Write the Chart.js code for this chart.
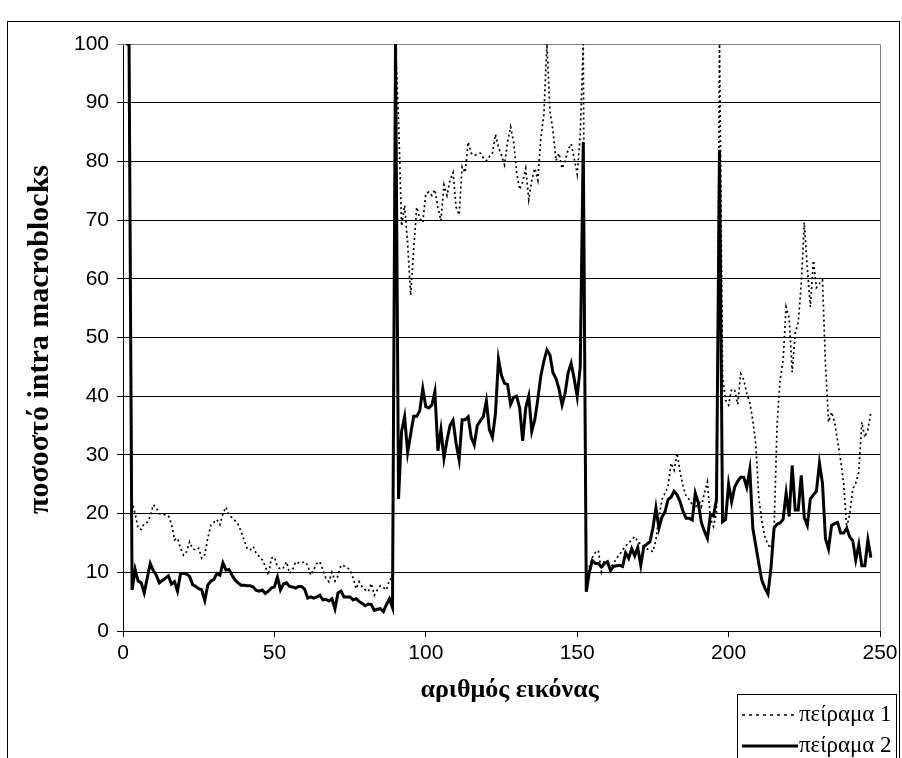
<!DOCTYPE html>
<html>
<head>
<meta charset="utf-8">
<script src="https://cdn.jsdelivr.net/npm/chart.js@4.4.1/dist/chart.umd.min.js"></script>
<style>
    html, body { margin: 0; padding: 0; background: #ffffff; }
    canvas { display: block; }
</style>
</head>
<body>
<canvas id="chart" width="902" height="758"></canvas>
<script>
// picture index (x axis), 1..247
const frames = Array.from({ length: 247 }, (_, i) => i + 1);

// πείραμα 1 (dotted)
const experiment1 = [
    100, 100, 22, 20, 17.5, 17.3, 18.3, 18.5, 19.5, 21.5,
    21, 20, 19.8, 19.8, 19.6, 18.3, 15.5, 15.8, 14.1, 12.9,
    13.5, 15.2, 14, 13.8, 14.1, 12.4, 13, 15.8, 18, 18.5,
    19, 18.1, 20, 21.1, 19.8, 19.3, 18.8, 18.2, 17, 15.5,
    14, 13.8, 14.4, 13.2, 12.7, 12.1, 11, 9.5, 12.4, 12.6,
    11, 10.5, 10.8, 11.8, 9.8, 10.4, 11.8, 11.6, 11.6, 11.8,
    11.2, 9.5, 10.5, 11.5, 11.8, 10.4, 9, 8.4, 10, 8.5,
    9.4, 11.2, 11.1, 10.8, 10.4, 9, 7.2, 8.4, 7.5, 7,
    6.7, 8.1, 6.1, 7, 7.7, 7.4, 7, 8.7, 9.1, 100,
    87, 69, 72.5, 66, 57.2, 65, 72.2, 70.3, 69.6, 74.5,
    74.8, 74.2, 75.2, 72.2, 69.9, 76, 74.2, 76.8, 78.1, 72.2,
    70.9, 79.1, 78.1, 83.3, 81.4, 81, 81.2, 81.4, 80.6, 80.1,
    80.8, 81.4, 84.6, 82.4, 81, 79.4, 83.3, 85.9, 83.3, 78.1,
    75.2, 76.5, 78.8, 73.5, 76.8, 78.8, 76.8, 84, 88, 100,
    88.6, 85.3, 80.1, 81.4, 78.8, 80, 82, 83, 80.5, 77.8,
    84.6, 100, 7, 11, 12.5, 13.4, 13.7, 10.1, 12.1, 11.5,
    10.8, 11.5, 12.4, 13, 13.8, 14.5, 15, 15.5, 16.1, 15.2,
    14.8, 14.4, 14, 13.8, 13.5, 15.5, 19.5, 22.4, 23.5, 24.6,
    28.6, 27.4, 30.3, 27, 24.6, 22.9, 22.4, 21.5, 20.8, 22.4,
    21.2, 23.5, 25.4, 19.2, 17.8, 20.2, 100, 43.3, 39.3, 38.5,
    41.2, 41, 38.6, 43.8, 42.8, 40.5, 38.9, 35.9, 31.7, 22.5,
    18.6, 16, 14.7, 14.1, 17, 35, 42.8, 46.1, 55.2, 53.3,
    44.1, 50.7, 52.6, 59.2, 69.6, 61.8, 55.2, 63.1, 58.5, 59.2,
    59.8, 45.4, 35.6, 37.3, 35.6, 32.4, 29.1, 25.2, 17.6, 19.9,
    24.2, 25.2, 27.1, 35.6, 33, 34.3, 37.3
];

// πείραμα 2 (solid)
const experiment2 = [
    100, 100, 7, 10.5, 8.5, 8.2, 6.5, 9, 11.5, 10.3,
    9.5, 8.2, 8.6, 9, 9.4, 8, 8.4, 6.8, 9.8, 9.8,
    9.7, 9.3, 7.9, 7.6, 7.2, 7, 5.2, 7.8, 8.5, 8.8,
    9.8, 9.5, 11.6, 10.4, 10.5, 9.5, 8.7, 8.2, 7.8, 7.8,
    7.7, 7.7, 7.5, 6.9, 6.8, 7, 6.4, 6.8, 7.3, 7.5,
    9.2, 7, 8, 8.2, 7.6, 7.5, 7.3, 7.6, 7.6, 7.1,
    5.6, 5.8, 5.6, 5.8, 6.1, 5.3, 5.4, 5.1, 5.5, 3.8,
    6.5, 6.8, 5.8, 5.8, 5.8, 5.3, 5.5, 5, 4.7, 4.3,
    4.6, 4.5, 3.5, 3.7, 3.8, 3.3, 4.5, 5.5, 4, 100,
    22.5, 34, 36.5, 30.4, 33.5, 36.6, 36.6, 37.5, 41.3, 38.2,
    38, 38.5, 40.8, 30.7, 34.3, 29.4, 32.5, 35, 35.9, 32,
    29.2, 36, 36, 36.5, 33, 31.7, 35, 35.8, 36.5, 39.2,
    34.3, 33, 37, 46.3, 43.5, 42.2, 42, 38.6, 39.8, 40,
    38, 32.4, 38, 40, 34, 36, 39.5, 43.5, 46, 47.9,
    47, 44, 43, 41.2, 38.5, 40.5, 44, 45.6, 43, 39.9,
    45, 83.3, 6.7, 10, 12, 11.5, 11.5, 10.9, 11.5, 11.8,
    10.3, 11, 11.1, 11.2, 11, 13.3, 12.4, 14, 12.8, 14.2,
    11.2, 14.4, 14.8, 15.2, 17.5, 21, 17.5, 19.4, 20.3, 22.4,
    22.8, 23.8, 23.2, 22, 20.3, 19.2, 19.2, 18.9, 23.5, 21.8,
    18.5, 17, 15.8, 19.8, 19.6, 22.4, 82, 18.6, 19, 25,
    22, 24.5, 25.5, 26.2, 26.2, 24.5, 27.5, 17.5, 14.5, 11.4,
    8.6, 7.3, 6.3, 10.8, 17.5, 18.2, 18.4, 19, 23.5, 19.5,
    28.2, 20.6, 20.6, 26.5, 19.3, 18, 22.5, 23.2, 23.8, 28.6,
    25.2, 15.7, 14, 18, 18.3, 18.5, 16.7, 16.7, 17.5, 16,
    15.4, 12.1, 14.7, 11.1, 11.1, 15.5, 12.5
];

const seriesLabels = ['πείραμα 1', 'πείραμα 2'];
const xTitle = 'αριθμός εικόνας';
const yTitle = 'ποσοστό intra macroblocks';

const toPoints = (values) => values.map((v, i) => ({ x: frames[i], y: v }));

// Titles, legend box and outer frame drawn in Excel style
const excelDecor = {
    id: 'excelDecor',
    beforeDatasetsDraw(chart) {
        const { ctx, chartArea: a } = chart;
        ctx.save();
        ctx.strokeStyle = '#808080';
        ctx.lineWidth = 1;
        ctx.beginPath();
        ctx.moveTo(a.left, a.top + 0.5);
        ctx.lineTo(a.right + 0.5, a.top + 0.5);
        ctx.lineTo(a.right + 0.5, a.bottom);
        ctx.stroke();
        ctx.restore();
    },
    afterDraw(chart) {
        const { ctx, chartArea: a } = chart;
        ctx.save();

        // outer frame
        ctx.strokeStyle = '#000';
        ctx.lineWidth = 1;
        ctx.strokeRect(7.5, 21.5, 892, 800);

        // axis titles
        ctx.fillStyle = '#000';
        ctx.textAlign = 'center';
        ctx.textBaseline = 'middle';
        ctx.font = 'bold 26px "Liberation Serif", "Times New Roman", serif';
        ctx.fillText(xTitle, (a.left + a.right) / 2 + 8, 690);

        ctx.save();
        ctx.font = 'bold 30px "Liberation Serif", "Times New Roman", serif';
        ctx.translate(40, (a.top + a.bottom) / 2 + 2);
        ctx.rotate(-Math.PI / 2);
        ctx.fillText(yTitle, 0, 0);
        ctx.restore();

        // legend
        ctx.fillStyle = '#fff';
        ctx.fillRect(737.5, 694.5, 159, 80);
        ctx.strokeRect(737.5, 694.5, 159, 80);

        const rows = [
            { y: 715, dash: [3, 4], width: 1.5 },
            { y: 746, dash: [], width: 3 }
        ];
        ctx.font = '23px "Liberation Serif", "Times New Roman", serif';
        ctx.textAlign = 'left';
        rows.forEach((row, i) => {
            ctx.strokeStyle = '#000';
            ctx.lineWidth = row.width;
            ctx.setLineDash(row.dash);
            ctx.beginPath();
            ctx.moveTo(742, row.y);
            ctx.lineTo(798, row.y);
            ctx.stroke();
            ctx.setLineDash([]);
            ctx.fillStyle = '#000';
            ctx.fillText(seriesLabels[i], 799, row.y);
        });

        ctx.restore();
    }
};

new Chart(document.getElementById('chart'), {
    type: 'line',
    data: {
        datasets: [
            {
                label: seriesLabels[1],
                data: toPoints(experiment2),
                borderColor: '#000',
                borderWidth: 3,
                pointRadius: 0,
                tension: 0,
                order: 0
            },
            {
                label: seriesLabels[0],
                data: toPoints(experiment1),
                borderColor: '#000',
                borderWidth: 1.7,
                borderDash: [2, 3],
                pointRadius: 0,
                tension: 0,
                order: 1
            }
        ]
    },
    options: {
        responsive: false,
        devicePixelRatio: 1,
        animation: false,
        events: [],
        layout: { padding: { top: 44, right: 22, left: 0, bottom: 0 } },
        plugins: {
            legend: { display: false },
            tooltip: { enabled: false }
        },
        scales: {
            x: {
                type: 'linear',
                min: 0,
                max: 250,
                ticks: {
                    stepSize: 50,
                    color: '#000',
                    padding: 4,
                    maxRotation: 0,
                    font: { family: '"Liberation Sans", Arial, sans-serif', size: 21 }
                },
                grid: {
                    drawOnChartArea: false,
                    drawTicks: true,
                    tickLength: 6,
                    color: '#000'
                },
                border: { color: '#000', width: 1 },
                afterFit: (scale) => { scale.height = 127; }
            },
            y: {
                min: 0,
                max: 100,
                ticks: {
                    stepSize: 10,
                    color: '#000',
                    padding: 8,
                    font: { family: '"Liberation Sans", Arial, sans-serif', size: 21 }
                },
                grid: {
                    color: (c) => (c.tick && c.tick.value === 100 ? '#808080' : '#000'),
                    lineWidth: 1,
                    tickLength: 6
                },
                border: { color: '#000', width: 1 },
                afterFit: (scale) => { scale.width = 123; }
            }
        }
    },
    plugins: [excelDecor]
});
</script>
</body>
</html>
